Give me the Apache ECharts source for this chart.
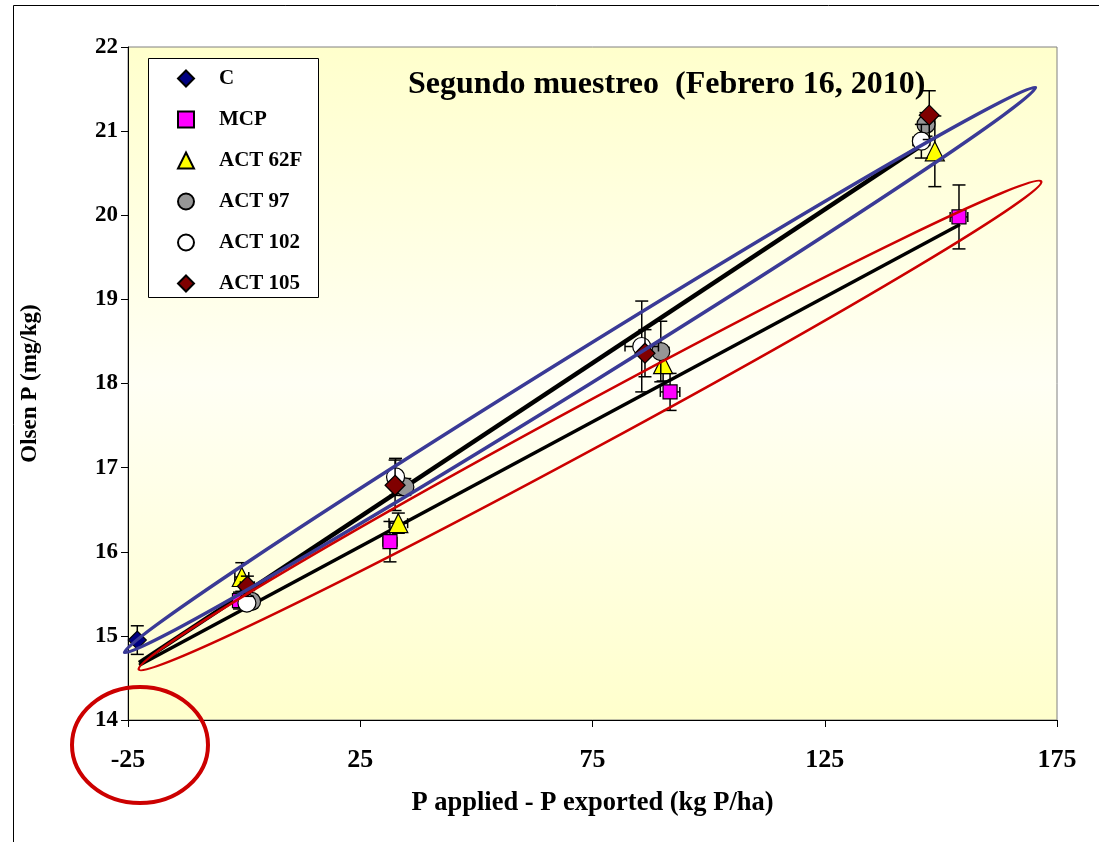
<!DOCTYPE html>
<html>
<head>
<meta charset="utf-8">
<script src="https://cdn.jsdelivr.net/npm/echarts@6.0.0/dist/echarts.min.js"></script>
<style>
  html, body { margin: 0; padding: 0; background: #ffffff; }
  #chart { width: 1099px; height: 842px; }
</style>
</head>
<body>
<div id="chart"></div>
<script>
// Olsen P vs. P balance, second sampling (Feb 16, 2010)
const treatments = ['C', 'MCP', 'ACT 62F', 'ACT 97', 'ACT 102', 'ACT 105'];

// P applied - P exported (kg P/ha)
const xC = [-23];
const xMCP = [-1, 31.4, 91.7, 153.9];
const x62F = [-0.5, 33.2, 90.2, 148.7];
const x97 = [1.6, 34.6, 89.7, 146.8];
const x102 = [0.6, 32.6, 85.6, 145.8];
const x105 = [0.7, 32.5, 86.3, 147.5];

// Olsen P (mg/kg)
const yC = [14.95];
const yMCP = [15.42, 16.12, 17.90, 19.98];
const y62F = [15.70, 16.34, 18.23, 20.76];
const y97 = [15.41, 16.77, 18.38, 21.08];
const y102 = [15.39, 16.89, 18.44, 20.88];
const y105 = [15.59, 16.79, 18.36, 21.19];

// vertical error (mg/kg)
const eC = [0.17];
const eMCP = [0.10, 0.24, 0.22, 0.38];
const e62F = [0.17, 0.12, 0.20, 0.42];
const e97 = [0.08, 0.10, 0.36, 0.14];
const e102 = [0.08, 0.22, 0.54, 0.20];
const e105 = [0.12, 0.30, 0.28, 0.29];

// horizontal error (kg P/ha)
const xeC = [0];
const xeMCP = [0, 1.5, 2.1, 1.9];
const xe62F = [1.5, 2.0, 0, 0];
const xe97 = [0, 0, 0, 0];
const xe102 = [0, 0, 3.6, 1.8];
const xe105 = [1.5, 0, 0, 0];

// fitted lines: amended-compost treatments and MCP
const trendActX = [-22.6, 146.1];
const trendActY = [14.68, 20.84];
const trendMcpX = [-22.6, 154.1];
const trendMcpY = [14.65, 19.89];

const xTicks = [-25, 25, 75, 125, 175];
const yMin = 14, yMax = 22;

const FONT = 'Liberation Serif, Times New Roman, serif';

const seriesDefs = [
  { name: 'C',       x: xC,   y: yC,   e: eC,   xe: xeC,   symbol: 'diamond',  size: 18, color: '#000080' },
  { name: 'MCP',     x: xMCP, y: yMCP, e: eMCP, xe: xeMCP, symbol: 'rect',     size: 14, color: '#FF00FF' },
  { name: 'ACT 62F', x: x62F, y: y62F, e: e62F, xe: xe62F, symbol: 'triangle', size: 19, color: '#FFFF00' },
  { name: 'ACT 97',  x: x97,  y: y97,  e: e97,  xe: xe97,  symbol: 'circle',   size: 18, color: '#969696' },
  { name: 'ACT 102', x: x102, y: y102, e: e102, xe: xe102, symbol: 'circle',   size: 18, color: '#FFFFFF' },
  { name: 'ACT 105', x: x105, y: y105, e: e105, xe: xe105, symbol: 'diamond',  size: 20, color: '#800000' }
];

function zip(a, b) { return a.map((v, i) => [v, b[i]]); }

function errorBarItem(params, api) {
  const x = api.value(0), y = api.value(1), e = api.value(2), xe = api.value(3);
  const cap = 6.5;
  const children = [];
  const style = { stroke: '#000', lineWidth: 1.5 };
  if (e > 0) {
    const top = api.coord([x, y + e]);
    const bot = api.coord([x, y - e]);
    children.push({ type: 'line', shape: { x1: top[0], y1: top[1], x2: bot[0], y2: bot[1] }, style });
    children.push({ type: 'line', shape: { x1: top[0] - cap, y1: top[1], x2: top[0] + cap, y2: top[1] }, style });
    children.push({ type: 'line', shape: { x1: bot[0] - cap, y1: bot[1], x2: bot[0] + cap, y2: bot[1] }, style });
  }
  if (xe > 0) {
    const l = api.coord([x - xe, y]);
    const r = api.coord([x + xe, y]);
    children.push({ type: 'line', shape: { x1: l[0], y1: l[1], x2: r[0], y2: r[1] }, style });
    children.push({ type: 'line', shape: { x1: l[0], y1: l[1] - 5, x2: l[0], y2: l[1] + 5 }, style });
    children.push({ type: 'line', shape: { x1: r[0], y1: r[1] - 5, x2: r[0], y2: r[1] + 5 }, style });
  }
  return { type: 'group', children };
}

const series = [];

// trend lines
series.push({
  type: 'line', data: zip(trendActX, trendActY), symbol: 'none', silent: true,
  lineStyle: { color: '#000', width: 4.5 }, z: 2, animation: false
});
series.push({
  type: 'line', data: zip(trendMcpX, trendMcpY), symbol: 'none', silent: true,
  lineStyle: { color: '#000', width: 3.5 }, z: 2, animation: false
});

// error bars then markers for each treatment
seriesDefs.forEach((d, k) => {
  series.push({
    type: 'custom',
    renderItem: errorBarItem,
    data: d.x.map((v, i) => [v, d.y[i], d.e[i], d.xe[i]]),
    encode: { x: 0, y: 1 },
    z: 3 + k * 2, silent: true, animation: false
  });
  series.push({
    name: d.name, type: 'scatter',
    data: zip(d.x, d.y),
    symbol: d.symbol, symbolSize: d.size,
    itemStyle: { color: d.color, borderColor: '#000', borderWidth: 1.2, opacity: 1 },
    z: 4 + k * 2, animation: false
  });
});

const chart = echarts.init(document.getElementById('chart'), null, { renderer: 'canvas' });

chart.setOption({
  animation: false,
  backgroundColor: '#ffffff',
  title: {
    text: 'Segundo muestreo  (Febrero 16, 2010)',
    left: 408, top: 69, padding: 0,
    textStyle: { fontFamily: FONT, fontWeight: 'bold', fontSize: 32, color: '#000' }
  },
  grid: {
    left: 128, top: 47, right: 42, bottom: 122,
    show: true,
    borderColor: '#808080', borderWidth: 1,
    backgroundColor: {
      type: 'linear', x: 0, y: 0, x2: 0, y2: 1,
      colorStops: [
        { offset: 0, color: '#FFFFCC' },
        { offset: 0.5, color: '#FFFFF4' },
        { offset: 1, color: '#FFFFCC' }
      ]
    }
  },
  xAxis: {
    type: 'value', min: xTicks[0], max: xTicks[xTicks.length - 1],
    name: 'P applied - P exported (kg P/ha)',
    nameLocation: 'middle', nameGap: 70,
    nameTextStyle: { fontFamily: FONT, fontWeight: 'bold', fontSize: 26.5, color: '#000' },
    axisLine: { show: true, onZero: false, lineStyle: { color: '#000', width: 1 } },
    axisTick: { show: true, length: 7, customValues: xTicks, lineStyle: { color: '#000' } },
    axisLabel: { customValues: xTicks, margin: 27, fontFamily: FONT, fontWeight: 'bold', fontSize: 26, color: '#000' },
    splitLine: { show: false }
  },
  yAxis: {
    type: 'value', min: yMin, max: yMax, interval: 1,
    name: 'Olsen P (mg/kg)',
    nameLocation: 'middle', nameGap: 86,
    nameTextStyle: { fontFamily: FONT, fontWeight: 'bold', fontSize: 23, color: '#000' },
    axisLine: { show: true, onZero: false, lineStyle: { color: '#000', width: 1 } },
    axisTick: { show: true, length: 7, lineStyle: { color: '#000' } },
    axisLabel: { margin: 10, fontFamily: FONT, fontWeight: 'bold', fontSize: 23, color: '#000' },
    splitLine: { show: false }
  },
  legend: {
    orient: 'vertical', left: 177, top: 68, padding: 0,
    itemWidth: 16, itemHeight: 16, itemGap: 20,
    data: treatments,
    textStyle: { fontFamily: FONT, fontWeight: 'bold', fontSize: 21, color: '#000', lineHeight: 20, padding: [0, 0, 0, 20] }
  },
  graphic: [
    { type: 'rect', silent: true, z: -1, shape: { x: 13.5, y: 5.5, width: 1200, height: 1000 },
      style: { fill: 'none', stroke: '#000', lineWidth: 1 } },
    { type: 'rect', silent: true, z: 3, shape: { x: 148.5, y: 58.5, width: 170, height: 239 },
      style: { fill: '#ffffff', stroke: '#000', lineWidth: 1 } },
    { type: 'ellipse', silent: true, z: 20, x: 580, y: 370, rotation: 31.8 * Math.PI / 180,
      shape: { cx: 0, cy: 0, rx: 536, ry: 17 },
      style: { fill: 'none', stroke: '#3A3A96', lineWidth: 3.5 } },
    { type: 'ellipse', silent: true, z: 20, x: 590, y: 425.5, rotation: 28.4 * Math.PI / 180,
      shape: { cx: 0, cy: 0, rx: 513, ry: 22.4 },
      style: { fill: 'none', stroke: '#CC0000', lineWidth: 2.5 } },
    { type: 'ellipse', silent: true, z: 20, x: 140, y: 745,
      shape: { cx: 0, cy: 0, rx: 68, ry: 58 },
      style: { fill: 'none', stroke: '#CC0000', lineWidth: 4 } }
  ],
  series
});
</script>
</body>
</html>
